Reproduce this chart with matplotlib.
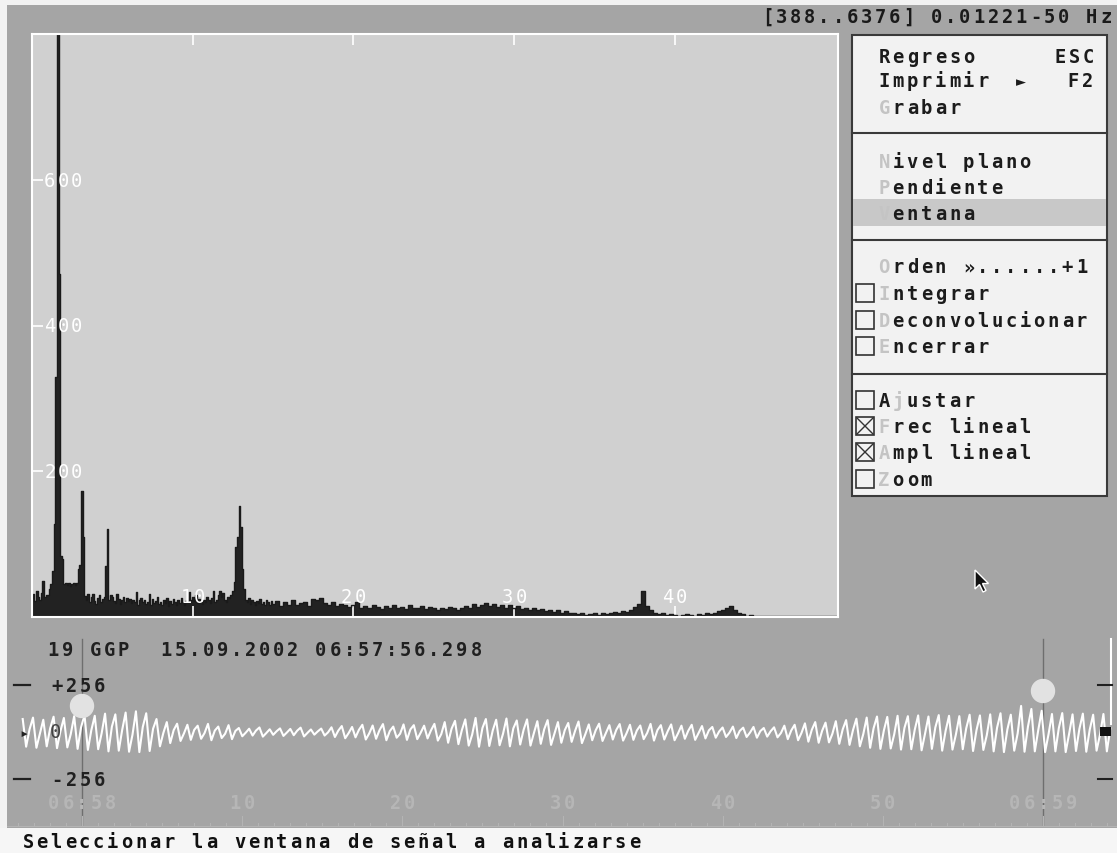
import numpy as np
import matplotlib
matplotlib.use('Agg')
import matplotlib.pyplot as plt
from matplotlib.patches import Rectangle, Circle, Polygon

# ---- spectrum (amplitude vs Hz), 0.1 Hz steps below 15 Hz, 0.25 Hz above
freq_lo = np.round(np.arange(0, 15, 0.1), 2)
amp_lo = [26, 31, 22, 35, 28, 24, 33, 50, 27, 30,
          30, 38, 45, 63, 128, 330, 1000, 471, 84, 80,
          45, 47, 44, 46, 43, 45, 47, 44, 46, 66,
          72, 173, 110, 29, 24, 32, 20, 27, 31, 22,
          18, 26, 30, 21, 25, 28, 70, 121, 24, 30,
          27, 22, 19, 31, 25, 18, 23, 28, 20, 26,
          22, 25, 19, 24, 21, 34, 17, 23, 26, 20,
          24, 18, 21, 31, 16, 25, 19, 22, 27, 18,
          21, 17, 24, 19, 26, 15, 22, 18, 25, 20,
          17, 23, 19, 26, 20, 16, 22, 21, 34, 24,
          28, 22, 30, 19, 25, 21, 18, 24, 20, 27,
          23, 19, 26, 35, 21, 24, 30, 36, 27, 33,
          24, 20, 27, 26, 30, 36, 48, 96, 110, 152,
          124, 66, 38, 24, 20, 26, 18, 23, 21, 17,
          22, 19, 25, 18, 21, 16, 24, 20, 17, 22]
freq_hi = np.round(np.arange(15, 50.01, 0.25), 2)
amp_hi = [18, 22, 15, 20, 17, 24, 16, 19, 21, 15, 25, 24,
          26, 19, 17, 20, 15, 18, 16, 14, 17, 21, 13, 15,
          12, 16, 14, 11, 15, 13, 17, 12, 14, 11, 16, 13,
          12, 15, 11, 14, 12, 10, 13, 11, 14, 12, 10, 13,
          15, 12, 18, 14, 16, 19, 15, 18, 14, 17, 13, 16,
          12, 15, 11, 13, 10, 12, 9, 11, 8, 10, 7, 9,
          6, 8, 5, 6, 4, 5, 3, 4, 5, 3, 6, 4,
          5, 7, 6, 8, 7, 10, 14, 18, 36, 15, 9, 6,
          4, 5, 3, 4, 3, 2, 3, 4, 3, 2, 4, 3,
          5, 4, 6, 8, 10, 12, 15, 9, 6, 4, 2, 3,
          2, 1, 2, 1, 1, 1, 1, 1, 1, 1, 1, 1, 1, 1, 1, 1, 1, 1, 1, 1, 1]
freqs = np.concatenate([freq_lo, freq_hi])
amps = np.array(amp_lo + amp_hi, dtype=float)

spec_yticks = [200, 400, 600]
spec_xticks = [10, 20, 30, 40]

# ---- seismogram: per cycle peak / trough / knee (counts)
peaks = [72, 80, 68, 85, 78, 88, 95, 90, 102, 98,
         108, 115, 104, 72, 55, 46, 40, 35, 45, 30,
         38, 22, 18, 25, 15, 20, 17, 24, 14, 19,
         26, 33, 28, 40, 36, 44, 30, 42, 38, 35,
         45, 55, 62, 70, 78, 72, 68, 75, 64, 70,
         60, 66, 55, 50, 58, 42, 46, 38, 44, 40,
         36, 45, 38, 42, 35, 40, 33, 28, 25, 30,
         24, 28, 22, 26, 35, 40, 48, 55, 52, 60,
         66, 74, 80, 86, 84, 90, 88, 92, 86, 94,
         90, 88, 96, 92, 98, 104, 96, 145, 128, 118,
         100, 105, 98, 102, 96, 100]
troughs = [-82, -88, -80, -90, -86, -94, -100, -96, -108, -104,
           -110, -112, -106, -80, -62, -50, -44, -38, -46, -34,
           -40, -24, -20, -26, -16, -22, -18, -25, -15, -20,
           -28, -35, -30, -42, -38, -46, -32, -44, -40, -36,
           -48, -60, -68, -76, -82, -78, -74, -80, -70, -76,
           -66, -72, -60, -55, -62, -46, -50, -42, -48, -44,
           -40, -48, -42, -46, -38, -44, -36, -32, -28, -34,
           -28, -32, -26, -30, -40, -46, -54, -60, -58, -66,
           -72, -80, -88, -94, -92, -98, -96, -102, -94, -104,
           -98, -96, -106, -100, -108, -112, -104, -110, -108, -112,
           -108, -112, -106, -110, -104, -108]
knees = [15, -10, 20, 5, -12, 25, 10, -8, 30, 12,
         -15, 28, 18, -5, 10, -8, 12, -6, 8, -10,
         6, -4, 8, -6, 4, -3, 7, -5, 3, -2,
         8, -6, 12, -8, 10, 5, -10, 14, -4, 9,
         -12, 18, 10, -15, 22, 8, -10, 20, 12, -6,
         15, -8, 10, 6, -12, 9, -5, 11, -7, 8,
         -6, 10, 4, -8, 7, -5, 9, 3, -4, 6,
         -3, 5, 4, -6, 8, -5, 12, 6, -10, 14,
         10, -12, 20, 8, -15, 22, 12, -10, 25, 6,
         -14, 20, 10, -18, 24, 14, -8, 30, 10, -12,
         22, -10, 18, 12, -15, 20]
wave = np.column_stack([peaks, troughs, knees]).ravel()
t_start, t_end = -3.702, 64.2          # seconds relative to 06:58:00
wave_t = np.linspace(t_start, t_end, len(wave))
time_ticks = [0, 10, 20, 30, 40, 50, 60]
time_labels = ['06:58', '10', '20', '30', '40', '50', '06:59']
markers = [0, 60]

title = '[388..6376] 0.01221-50 Hz'
header = '19 GGP  15.09.2002 06:57:56.298'
status = 'Seleccionar la ventana de señal a analizarse'

W, H = 1117, 854
BG = '#a5a5a5'
fig = plt.figure(figsize=(W / 100, H / 100), dpi=100, facecolor=BG)


def px_axes(x0, y0, x1, y1):
    return fig.add_axes([x0 / W, 1 - y1 / H, (x1 - x0) / W, (y1 - y0) / H])


# spectrum panel
spec = px_axes(32, 35, 838, 618)
spec.set_facecolor('#d0d0d0')
spec.fill_between(freqs, 0, amps, step='mid', color='#222222', lw=0)
spec.step(freqs, amps, where='mid', color='#1a1a1a', lw=1.0)
spec.set_xlim(0, 50.15)
spec.set_ylim(0, 800)
spec.set_xticks(spec_xticks)
spec.set_yticks(spec_yticks)
spec.tick_params(direction='in', length=8, width=1.2, color='white',
                 top=True, labelbottom=False, labelleft=False)
for s in spec.spines.values():
    s.set_color('white')
    s.set_linewidth(1.5)

# seismogram panel
sec_px = 16.017
wv = px_axes(0, 625, W, 828)
wv.patch.set_alpha(0)
wv.set_xlim(-82 / sec_px, (W - 82) / sec_px)
wv.set_ylim(-529, 601)
wv.axis('off')
for m in markers:
    wv.axvline(m, ymin=0.01, ymax=0.926, color='#6e6e6e', lw=1)
wv.plot(wave_t, wave, color='white', lw=1.5)
for s in np.arange(-5, 65, 1):
    tall = s % 10 == 0
    wv.plot([s, s], [-505 if not tall else -470, -530], color='#b4b4b4', lw=0.8)
wv.axhline(-525, color='#b4b4b4', lw=0.8)

# overlay in pixel coords
ov = px_axes(0, 0, W, H)
ov.set_xlim(0, W)
ov.set_ylim(H, 0)
ov.axis('off')
ov.set_zorder(5)

MONO = ['DejaVu Sans Mono', 'DejaVu Sans']
PITCH = 14.1


def put(x, y, s, color='#1c1c1c', size=13.5, gray=(), weight='bold',
        family=MONO, pitch=PITCH):
    for i, ch in enumerate(s):
        if ch == ' ':
            continue
        ov.text(x + (i + 0.5) * pitch, y + 6, ch,
                color='#c4c4c4' if i in gray else color,
                fontsize=size, fontweight=weight, family=family,
                ha='center', va='baseline')


# white screen edges / status bar
ov.add_patch(Rectangle((0, 0), W, 6, color='#f2f2f2', lw=0))
ov.add_patch(Rectangle((0, 0), 7, 829, color='#f2f2f2', lw=0))
ov.add_patch(Rectangle((0, 829), W, 25, color='#f6f6f6', lw=0))
put(21, 842, status, color='#111111')
put(1113 - len(title) * PITCH, 17, title, color='#1a1a1a')

# spectrum tick labels
for v in spec_yticks:
    y = 618 - v * 583 / 800
    put(43, y, str(v), color='white', weight='normal', size=13.5, pitch=13.5)
for v in spec_xticks:
    x = 32 + v * 806 / 50.15
    lab = str(v)
    put(x - len(lab) * 13.5 / 2, 597, lab, color='white', weight='normal',
        size=13.5, pitch=13.5)

# menu
ov.add_patch(Rectangle((852, 36), 255, 461, facecolor='#f2f2f2',
                       edgecolor='#3a3a3a', lw=1.5))
ov.add_patch(Rectangle((853, 200), 253, 27, color='#c8c8c8', lw=0))
for y in [134, 241, 375]:
    ov.plot([852, 1107], [y, y], color='#3a3a3a', lw=1.5)

put(877, 57, 'Regreso')
put(1053, 57, 'ESC')
put(877, 81, 'Imprimir')
ov.text(1021, 87, '\u25ba', color='#1c1c1c', fontsize=12, family=MONO,
        ha='center', va='baseline')
put(1066, 81, 'F2')
put(877, 108, 'Grabar', gray=(0,))
put(877, 162, 'Nivel plano', gray=(0,))
put(877, 188, 'Pendiente', gray=(0,))
put(877, 214, 'Ventana', gray=(0,))
put(877, 267, 'Orden \u00bb......+1', gray=(0,))

boxes = [('Integrar', 294, (0,), False), ('Deconvolucionar', 321, (0,), False),
         ('Encerrar', 347, (0,), False), ('Ajustar', 401, (1,), False),
         ('Frec lineal', 427, (0,), True), ('Ampl lineal', 453, (0,), True),
         ('Zoom', 480, (0,), False)]
for lab, y, g, on in boxes:
    ov.add_patch(Rectangle((856, y - 9), 18, 18, facecolor='none',
                           edgecolor='#333333', lw=1.2))
    if on:
        ov.plot([857, 873], [y - 8, y + 8], color='#333333', lw=1)
        ov.plot([857, 873], [y + 8, y - 8], color='#333333', lw=1)
    put(877, y, lab, gray=g)

# seismogram annotations
put(46, 650, header, color='#202020')
ov.plot([14, 30], [686, 686], color='#202020', lw=1.6)
ov.plot([14, 30], [780, 780], color='#202020', lw=1.6)
put(50, 686, '+256', color='#202020')
put(50, 780, '-256', color='#202020')
ov.text(24, 738, '\u25b8', color='#202020', fontsize=11, family=MONO,
        ha='center', va='baseline')
put(48, 732, '0', color='#444444', weight='normal')
for t, lab in zip(time_ticks, time_labels):
    x = 82 + t * sec_px
    put(x - len(lab) * PITCH / 2, 803, lab, color='#b6b6b6')
ov.add_patch(Circle((82, 707), 11.5, color='#e2e2e2', zorder=6))
ov.add_patch(Circle((1043, 692), 11.5, color='#e2e2e2', zorder=6))
ov.plot([1111, 1111], [640, 725], color='white', lw=1.5)
ov.plot([1098, 1112], [686, 686], color='#202020', lw=1.5)
ov.plot([1098, 1112], [780, 780], color='#202020', lw=1.5)
ov.add_patch(Rectangle((1100, 728), 11, 9, color='#111111', lw=0))

# mouse pointer
tip = np.array([975, 571])
arrow = np.array([[0, 0], [0, 19], [4.5, 14.5], [8, 22], [11, 20.5],
                  [7.5, 13.5], [13.5, 13.5]]) + tip
ov.add_patch(Polygon(arrow, closed=True, facecolor='#111111',
                     edgecolor='white', lw=1, zorder=7))

fig.savefig('out.png', dpi=100, facecolor=BG)
